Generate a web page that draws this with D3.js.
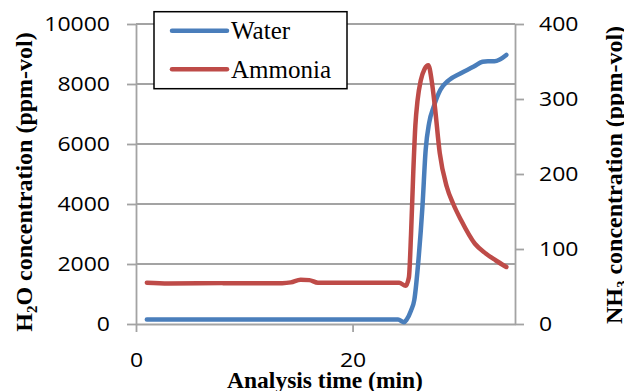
<!DOCTYPE html>
<html>
<head>
<meta charset="utf-8">
<script src="https://cdn.jsdelivr.net/npm/d3@7"></script>
<style>body{margin:0;background:#fff}</style>
</head>
<body>
<svg id="chart" width="624" height="391"></svg>
<script>
// Water concentration (ppm-vol) against analysis time (min)
const timeWater = [1, 5, 10, 15, 20, 24.2, 24.75, 25.0, 25.4, 25.7, 26.1, 26.45, 26.75, 27.07, 27.5, 28.1, 28.9, 30.0, 31.2, 32.0, 32.5, 33.1, 33.6, 34.2];
const waterPpm  = [150, 150, 150, 150, 150, 150, 60, 150, 450, 800, 2200, 3900, 5800, 6700, 7250, 7800, 8130, 8360, 8580, 8740, 8760, 8760, 8820, 8970];

// Ammonia concentration (ppm-vol) against analysis time (min)
const timeAmmonia = [1, 3, 8, 13.5, 14.3, 15.2, 16.0, 16.8, 20, 24.3, 24.9, 25.2, 25.4, 25.6, 25.8, 26.0, 26.3, 26.65, 27.0, 27.3, 27.6, 28.05, 28.7, 29.3, 30.0, 31.3, 32.3, 33.2, 34.2];
const ammoniaPpm  = [55, 54, 54.5, 54.5, 55.5, 59, 58.5, 55, 55, 55, 51, 62, 120, 200, 265, 298, 325, 340, 345, 325, 290, 228, 183, 160, 139, 107, 94, 85, 76];

const leftTicks = [0, 2000, 4000, 6000, 8000, 10000];
const rightTicks = [0, 100, 200, 300, 400];
const timeTicks = [0, 20];
const seriesNames = ["Water", "Ammonia"];
const seriesColors = ["#4A7EBB", "#BE4B48"];

const svg = d3.select("#chart");
svg.append("rect").attr("width", 624).attr("height", 391).attr("fill", "#fff");

const x = d3.scaleLinear().domain([0, 35]).range([136, 515]);
const yL = d3.scaleLinear().domain([0, 10000]).range([324, 24]);
const yR = d3.scaleLinear().domain([0, 400]).range([324, 24]);

const gridColor = "#a3a3a3";
const numFont = "'Open Sans', sans-serif";
const serifFont = "'Liberation Serif', 'Times New Roman', serif";

// widen tick labels horizontally around their anchor point
function widen(sel, k) {
  sel.each(function () {
    const t = d3.select(this);
    const tx = +t.attr("x") || 0, ty = +t.attr("y") || 0;
    t.attr("x", null).attr("y", null)
     .attr("transform", `translate(${tx},${ty}) scale(${k},1)`);
  });
}

function styleAxis(g) {
  g.select(".domain").attr("stroke", gridColor).attr("stroke-width", 1.8);
  g.selectAll(".tick line").attr("stroke", gridColor).attr("stroke-width", 1.8);
  g.selectAll(".tick text").attr("fill", "#000")
    .style("font-family", numFont).style("font-size", "20px");
}

// horizontal gridlines on the primary axis
svg.append("g").selectAll("line").data(leftTicks.slice(1)).join("line")
  .attr("x1", x(0)).attr("x2", x(35))
  .attr("y1", d => yL(d)).attr("y2", d => yL(d))
  .attr("stroke", gridColor).attr("stroke-width", 1.8);

// left axis (H2O)
const gL = svg.append("g").attr("transform", `translate(${x(0)},0)`)
  .call(d3.axisLeft(yL).tickValues(leftTicks).tickSize(9).tickSizeOuter(0)
    .tickPadding(17).tickFormat(d3.format("d")));
styleAxis(gL);
widen(gL.selectAll(".tick text"), 1.15);

// right axis (NH3)
const gR = svg.append("g").attr("transform", `translate(${x(35)},0)`)
  .call(d3.axisRight(yR).tickValues(rightTicks).tickSize(9).tickSizeOuter(0)
    .tickPadding(15).tickFormat(d3.format("d")));
styleAxis(gR);
widen(gR.selectAll(".tick text"), 1.15);

// bottom axis (time)
const gB = svg.append("g").attr("transform", `translate(0,${yL(0)})`)
  .call(d3.axisBottom(x).tickValues(timeTicks).tickSize(8).tickSizeOuter(0)
    .tickPadding(20.5).tickFormat(d3.format("d")));
styleAxis(gB);
widen(gB.selectAll(".tick text"), 1.15);

// series lines
const lineWater = d3.line().x((d, i) => x(timeWater[i])).y(d => yL(d)).curve(d3.curveMonotoneX);
const lineAmmonia = d3.line().x((d, i) => x(timeAmmonia[i])).y(d => yR(d)).curve(d3.curveMonotoneX);

svg.append("path").attr("d", lineWater(waterPpm))
  .attr("fill", "none").attr("stroke", seriesColors[0]).attr("stroke-width", 4.5)
  .attr("stroke-linecap", "round").attr("stroke-linejoin", "round");
svg.append("path").attr("d", lineAmmonia(ammoniaPpm))
  .attr("fill", "none").attr("stroke", seriesColors[1]).attr("stroke-width", 4.5)
  .attr("stroke-linecap", "round").attr("stroke-linejoin", "round");

// axis titles
svg.append("text")
  .attr("x", 325).attr("y", 388)
  .attr("text-anchor", "middle")
  .style("font-family", serifFont).style("font-weight", "bold").style("font-size", "23.5px")
  .text("Analysis time (min)");

const tL = svg.append("text")
  .attr("transform", "translate(32,182) rotate(-90)")
  .attr("text-anchor", "middle")
  .style("font-family", serifFont).style("font-weight", "bold").style("font-size", "24px");
tL.append("tspan").text("H");
tL.append("tspan").attr("dy", 5).style("font-size", "15px").text("2");
tL.append("tspan").attr("dy", -5).text("O concentration (ppm-vol)");

const tR = svg.append("text")
  .attr("transform", "translate(622,175) rotate(-90)")
  .attr("text-anchor", "middle")
  .style("font-family", serifFont).style("font-weight", "bold").style("font-size", "24px");
tR.append("tspan").text("NH");
tR.append("tspan").attr("dy", 5).style("font-size", "15px").text("3");
tR.append("tspan").attr("dy", -5).text(" concentration (ppm-vol)");

// legend
const legend = svg.append("g");
legend.append("rect")
  .attr("x", 154).attr("y", 11.7).attr("width", 193).attr("height", 77)
  .attr("fill", "#fff").attr("stroke", "#000").attr("stroke-width", 1.5);
const rows = legend.selectAll("g.row").data(seriesNames).join("g")
  .attr("class", "row")
  .attr("transform", (d, i) => `translate(0,${30.7 + i * 38.6})`);
rows.append("line")
  .attr("x1", 172).attr("x2", 227).attr("y1", 0).attr("y2", 0)
  .attr("stroke", (d, i) => seriesColors[i]).attr("stroke-width", 4.5)
  .attr("stroke-linecap", "round");
rows.append("text")
  .attr("x", 231).attr("y", 8.6)
  .style("font-family", serifFont).style("font-size", "25px")
  .text(d => d);
</script>
</body>
</html>
